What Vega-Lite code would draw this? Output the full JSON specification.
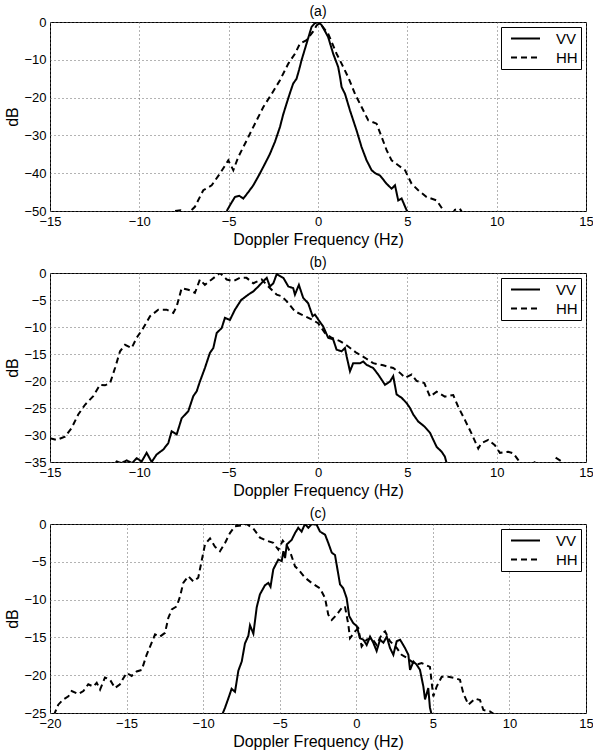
{
  "$schema": "https://vega.github.io/schema/vega-lite/v6.json",
  "padding": {"left": 4, "top": 4, "right": 0, "bottom": 0},
  "spacing": 7,
  "datasets": {
    "a": [
      {"pol":"VV","f":-5.11,"db":-50},{"pol":"VV","f":-4.93,"db":-48.5},{"pol":"VV","f":-4.65,"db":-46.3},{"pol":"VV","f":-4.4,"db":-46.0},{"pol":"VV","f":-4.18,"db":-46.7},{"pol":"VV","f":-3.9,"db":-45},{"pol":"VV","f":-3.62,"db":-43.2},{"pol":"VV","f":-3.3,"db":-40.5},{"pol":"VV","f":-2.97,"db":-37.5},{"pol":"VV","f":-2.7,"db":-35},{"pol":"VV","f":-2.41,"db":-31.7},{"pol":"VV","f":-2.13,"db":-27.8},{"pol":"VV","f":-1.95,"db":-24.5},{"pol":"VV","f":-1.76,"db":-21.6},{"pol":"VV","f":-1.55,"db":-18.5},{"pol":"VV","f":-1.39,"db":-16.3},{"pol":"VV","f":-1.2,"db":-15.0},{"pol":"VV","f":-1.05,"db":-12.5},{"pol":"VV","f":-0.92,"db":-10.1},{"pol":"VV","f":-0.64,"db":-5.7},{"pol":"VV","f":-0.36,"db":-1.3},{"pol":"VV","f":-0.17,"db":-0.3},{"pol":"VV","f":0,"db":0},{"pol":"VV","f":0.2,"db":-0.8},{"pol":"VV","f":0.4,"db":-2.5},{"pol":"VV","f":0.57,"db":-4},{"pol":"VV","f":0.85,"db":-8.4},{"pol":"VV","f":1.13,"db":-11.9},{"pol":"VV","f":1.25,"db":-15},{"pol":"VV","f":1.32,"db":-17.2},{"pol":"VV","f":1.51,"db":-19},{"pol":"VV","f":1.79,"db":-23.4},{"pol":"VV","f":2.16,"db":-28.7},{"pol":"VV","f":2.44,"db":-33.1},{"pol":"VV","f":2.72,"db":-36.6},{"pol":"VV","f":3.0,"db":-39.2},{"pol":"VV","f":3.2,"db":-40},{"pol":"VV","f":3.47,"db":-40.6},{"pol":"VV","f":3.84,"db":-42.8},{"pol":"VV","f":4.12,"db":-44.1},{"pol":"VV","f":4.31,"db":-43.2},{"pol":"VV","f":4.49,"db":-47.2},{"pol":"VV","f":4.68,"db":-46.7},{"pol":"VV","f":4.96,"db":-49.8},{"pol":"VV","f":5.02,"db":-50},
      {"pol":"HH","f":-8.0,"db":-50},{"pol":"HH","f":-7.7,"db":-49.8},{"pol":"HH","f":-7.35,"db":-51},{"pol":"HH","f":-6.89,"db":-48.9},{"pol":"HH","f":-6.42,"db":-44.5},{"pol":"HH","f":-5.95,"db":-43.2},{"pol":"HH","f":-5.49,"db":-40.1},{"pol":"HH","f":-5.02,"db":-36.6},{"pol":"HH","f":-4.74,"db":-39.2},{"pol":"HH","f":-4.46,"db":-35.7},{"pol":"HH","f":-3.99,"db":-31.3},{"pol":"HH","f":-3.53,"db":-26.9},{"pol":"HH","f":-3.06,"db":-22.5},{"pol":"HH","f":-2.59,"db":-19},{"pol":"HH","f":-2.13,"db":-15.4},{"pol":"HH","f":-1.66,"db":-11},{"pol":"HH","f":-1.29,"db":-8.4},{"pol":"HH","f":-1.01,"db":-5.7},{"pol":"HH","f":-0.64,"db":-4.8},{"pol":"HH","f":-0.27,"db":-2.5},{"pol":"HH","f":-0.08,"db":-0.9},{"pol":"HH","f":0.1,"db":-0.3},{"pol":"HH","f":0.3,"db":-1.5},{"pol":"HH","f":0.57,"db":-3.1},{"pol":"HH","f":1.04,"db":-8.4},{"pol":"HH","f":1.32,"db":-11},{"pol":"HH","f":1.69,"db":-14.6},{"pol":"HH","f":2.07,"db":-19},{"pol":"HH","f":2.44,"db":-22.5},{"pol":"HH","f":2.81,"db":-26},{"pol":"HH","f":3.28,"db":-26.9},{"pol":"HH","f":3.56,"db":-30.4},{"pol":"HH","f":3.84,"db":-33.9},{"pol":"HH","f":4.12,"db":-36.6},{"pol":"HH","f":4.49,"db":-37.9},{"pol":"HH","f":4.87,"db":-39.2},{"pol":"HH","f":5.24,"db":-42.8},{"pol":"HH","f":5.61,"db":-44.5},{"pol":"HH","f":6.08,"db":-46.3},{"pol":"HH","f":6.64,"db":-47.2},{"pol":"HH","f":7.01,"db":-49.8},{"pol":"HH","f":7.25,"db":-51},{"pol":"HH","f":7.5,"db":-51},{"pol":"HH","f":7.66,"db":-49.7},{"pol":"HH","f":7.94,"db":-49.4},{"pol":"HH","f":8.15,"db":-51}
    ],
    "b": [
      {"pol":"VV","f":-11.4,"db":-35.5},{"pol":"VV","f":-11.27,"db":-34.9},{"pol":"VV","f":-11.0,"db":-35.2},{"pol":"VV","f":-10.71,"db":-34.7},{"pol":"VV","f":-10.4,"db":-35.2},{"pol":"VV","f":-10.15,"db":-34.3},{"pol":"VV","f":-9.87,"db":-34.9},{"pol":"VV","f":-9.59,"db":-33.3},{"pol":"VV","f":-9.31,"db":-35},{"pol":"VV","f":-9.03,"db":-33.6},{"pol":"VV","f":-8.66,"db":-32.7},{"pol":"VV","f":-8.38,"db":-31.5},{"pol":"VV","f":-8.19,"db":-29.3},{"pol":"VV","f":-7.91,"db":-29.9},{"pol":"VV","f":-7.63,"db":-26.9},{"pol":"VV","f":-7.26,"db":-25.6},{"pol":"VV","f":-6.98,"db":-22.8},{"pol":"VV","f":-6.79,"db":-21.9},{"pol":"VV","f":-6.61,"db":-20.1},{"pol":"VV","f":-6.33,"db":-17.6},{"pol":"VV","f":-6.05,"db":-14.8},{"pol":"VV","f":-5.86,"db":-13.9},{"pol":"VV","f":-5.67,"db":-11.1},{"pol":"VV","f":-5.39,"db":-10.2},{"pol":"VV","f":-5.21,"db":-8.3},{"pol":"VV","f":-4.93,"db":-8.7},{"pol":"VV","f":-4.65,"db":-6.8},{"pol":"VV","f":-4.3,"db":-5.0},{"pol":"VV","f":-3.9,"db":-4.0},{"pol":"VV","f":-3.62,"db":-3.4},{"pol":"VV","f":-3.34,"db":-2.5},{"pol":"VV","f":-3.06,"db":-1.5},{"pol":"VV","f":-2.87,"db":-0.9},{"pol":"VV","f":-2.69,"db":-2.5},{"pol":"VV","f":-2.5,"db":-1.9},{"pol":"VV","f":-2.31,"db":-0.2},{"pol":"VV","f":-1.94,"db":-0.9},{"pol":"VV","f":-1.66,"db":-2.5},{"pol":"VV","f":-1.39,"db":-2.8},{"pol":"VV","f":-1.29,"db":-4.0},{"pol":"VV","f":-1.07,"db":-2.2},{"pol":"VV","f":-0.83,"db":-4.6},{"pol":"VV","f":-0.55,"db":-5.6},{"pol":"VV","f":-0.3,"db":-8.0},{"pol":"VV","f":-0.17,"db":-7.7},{"pol":"VV","f":0.01,"db":-8.6},{"pol":"VV","f":0.29,"db":-9.9},{"pol":"VV","f":0.57,"db":-12.0},{"pol":"VV","f":0.85,"db":-12.3},{"pol":"VV","f":1.04,"db":-14.2},{"pol":"VV","f":1.32,"db":-14.5},{"pol":"VV","f":1.51,"db":-13.9},{"pol":"VV","f":1.6,"db":-15.4},{"pol":"VV","f":1.79,"db":-18.2},{"pol":"VV","f":1.97,"db":-16.7},{"pol":"VV","f":2.35,"db":-16.7},{"pol":"VV","f":2.53,"db":-16.4},{"pol":"VV","f":2.72,"db":-17.0},{"pol":"VV","f":3.09,"db":-17.6},{"pol":"VV","f":3.37,"db":-18.8},{"pol":"VV","f":3.75,"db":-20.7},{"pol":"VV","f":4.03,"db":-20.1},{"pol":"VV","f":4.21,"db":-19.1},{"pol":"VV","f":4.4,"db":-22.5},{"pol":"VV","f":4.68,"db":-23.1},{"pol":"VV","f":4.96,"db":-24.1},{"pol":"VV","f":5.15,"db":-25.0},{"pol":"VV","f":5.33,"db":-26.2},{"pol":"VV","f":5.61,"db":-27.5},{"pol":"VV","f":5.95,"db":-28.4},{"pol":"VV","f":6.27,"db":-29.6},{"pol":"VV","f":6.64,"db":-32.2},{"pol":"VV","f":6.92,"db":-33.1},{"pol":"VV","f":7.1,"db":-34.0},{"pol":"VV","f":7.2,"db":-35.2},
      {"pol":"HH","f":-15,"db":-30.6},{"pol":"HH","f":-14.63,"db":-30.9},{"pol":"HH","f":-14.16,"db":-30.3},{"pol":"HH","f":-13.79,"db":-28.7},{"pol":"HH","f":-13.42,"db":-26.2},{"pol":"HH","f":-13.04,"db":-24.4},{"pol":"HH","f":-12.58,"db":-22.8},{"pol":"HH","f":-12.2,"db":-20.7},{"pol":"HH","f":-11.92,"db":-20.8},{"pol":"HH","f":-11.64,"db":-20.4},{"pol":"HH","f":-11.36,"db":-17.6},{"pol":"HH","f":-11.08,"db":-14.5},{"pol":"HH","f":-10.8,"db":-13.3},{"pol":"HH","f":-10.43,"db":-13.9},{"pol":"HH","f":-10.15,"db":-12.0},{"pol":"HH","f":-9.78,"db":-10.2},{"pol":"HH","f":-9.4,"db":-8.0},{"pol":"HH","f":-8.94,"db":-6.8},{"pol":"HH","f":-8.47,"db":-6.8},{"pol":"HH","f":-8.1,"db":-7.4},{"pol":"HH","f":-7.91,"db":-6.2},{"pol":"HH","f":-7.63,"db":-2.8},{"pol":"HH","f":-7.26,"db":-3.1},{"pol":"HH","f":-6.89,"db":-3.7},{"pol":"HH","f":-6.61,"db":-1.2},{"pol":"HH","f":-6.33,"db":-2.2},{"pol":"HH","f":-5.95,"db":-1.2},{"pol":"HH","f":-5.49,"db":0},{"pol":"HH","f":-5.11,"db":-1.2},{"pol":"HH","f":-4.74,"db":-1.5},{"pol":"HH","f":-4.37,"db":-0.9},{"pol":"HH","f":-4.0,"db":-0.9},{"pol":"HH","f":-3.62,"db":-1.9},{"pol":"HH","f":-3.15,"db":-1.2},{"pol":"HH","f":-2.78,"db":-2.5},{"pol":"HH","f":-2.31,"db":-4.0},{"pol":"HH","f":-2.03,"db":-4.3},{"pol":"HH","f":-1.76,"db":-5.2},{"pol":"HH","f":-1.29,"db":-7.1},{"pol":"HH","f":-0.92,"db":-7.7},{"pol":"HH","f":-0.36,"db":-8.6},{"pol":"HH","f":0.01,"db":-9.3},{"pol":"HH","f":0.39,"db":-11.1},{"pol":"HH","f":0.76,"db":-12.0},{"pol":"HH","f":1.23,"db":-12.6},{"pol":"HH","f":1.69,"db":-13.6},{"pol":"HH","f":2.16,"db":-14.8},{"pol":"HH","f":2.63,"db":-15.7},{"pol":"HH","f":3.09,"db":-16.7},{"pol":"HH","f":3.65,"db":-17.1},{"pol":"HH","f":4.21,"db":-17.6},{"pol":"HH","f":4.59,"db":-18.5},{"pol":"HH","f":4.87,"db":-19.4},{"pol":"HH","f":5.24,"db":-18.8},{"pol":"HH","f":5.52,"db":-20.0},{"pol":"HH","f":5.95,"db":-20.4},{"pol":"HH","f":6.27,"db":-22.9},{"pol":"HH","f":6.64,"db":-22.0},{"pol":"HH","f":7.1,"db":-22.9},{"pol":"HH","f":7.57,"db":-22.6},{"pol":"HH","f":7.85,"db":-24.8},{"pol":"HH","f":8.22,"db":-27.2},{"pol":"HH","f":8.59,"db":-29.7},{"pol":"HH","f":8.97,"db":-32.5},{"pol":"HH","f":9.15,"db":-31.5},{"pol":"HH","f":9.53,"db":-30.9},{"pol":"HH","f":9.9,"db":-31.9},{"pol":"HH","f":10.18,"db":-33.3},{"pol":"HH","f":10.64,"db":-33.1},{"pol":"HH","f":10.93,"db":-33.4},{"pol":"HH","f":11.2,"db":-34.6},{"pol":"HH","f":11.35,"db":-35.5},{"pol":"HH","f":12.0,"db":-35.3},{"pol":"HH","f":12.2,"db":-34.9},{"pol":"HH","f":12.4,"db":-35.3},{"pol":"HH","f":13.2,"db":-35.3},{"pol":"HH","f":13.35,"db":-34.3},{"pol":"HH","f":13.63,"db":-34.9},{"pol":"HH","f":13.8,"db":-35.5}
    ],
    "c": [
      {"pol":"VV","f":-8.75,"db":-25.2},{"pol":"VV","f":-8.57,"db":-24.3},{"pol":"VV","f":-8.36,"db":-23.1},{"pol":"VV","f":-8.14,"db":-21.8},{"pol":"VV","f":-7.92,"db":-22.2},{"pol":"VV","f":-7.7,"db":-19.4},{"pol":"VV","f":-7.48,"db":-18.2},{"pol":"VV","f":-7.27,"db":-15.8},{"pol":"VV","f":-7.05,"db":-14.8},{"pol":"VV","f":-6.94,"db":-13.4},{"pol":"VV","f":-6.72,"db":-14.5},{"pol":"VV","f":-6.5,"db":-11.0},{"pol":"VV","f":-6.29,"db":-9.3},{"pol":"VV","f":-5.96,"db":-8.1},{"pol":"VV","f":-5.74,"db":-7.8},{"pol":"VV","f":-5.6,"db":-8.3},{"pol":"VV","f":-5.42,"db":-6.0},{"pol":"VV","f":-5.09,"db":-4.7},{"pol":"VV","f":-4.87,"db":-4.9},{"pol":"VV","f":-4.76,"db":-3.6},{"pol":"VV","f":-4.65,"db":-4.5},{"pol":"VV","f":-4.54,"db":-2.7},{"pol":"VV","f":-4.22,"db":-2.1},{"pol":"VV","f":-4.0,"db":-1.2},{"pol":"VV","f":-3.79,"db":-0.5},{"pol":"VV","f":-3.57,"db":-1.0},{"pol":"VV","f":-3.35,"db":0},{"pol":"VV","f":-3.13,"db":-0.5},{"pol":"VV","f":-2.91,"db":0},{"pol":"VV","f":-2.59,"db":-0.1},{"pol":"VV","f":-2.37,"db":-1.0},{"pol":"VV","f":-2.04,"db":-1.4},{"pol":"VV","f":-1.83,"db":-2.5},{"pol":"VV","f":-1.6,"db":-3.8},{"pol":"VV","f":-1.39,"db":-4.1},{"pol":"VV","f":-1.28,"db":-5.4},{"pol":"VV","f":-1.06,"db":-8.0},{"pol":"VV","f":-0.85,"db":-8.5},{"pol":"VV","f":-0.63,"db":-9.8},{"pol":"VV","f":-0.46,"db":-12.2},{"pol":"VV","f":-0.2,"db":-13.1},{"pol":"VV","f":0.03,"db":-13.5},{"pol":"VV","f":0.24,"db":-15.1},{"pol":"VV","f":0.46,"db":-15.3},{"pol":"VV","f":0.68,"db":-16.0},{"pol":"VV","f":0.9,"db":-14.9},{"pol":"VV","f":1.11,"db":-15.7},{"pol":"VV","f":1.33,"db":-16.8},{"pol":"VV","f":1.55,"db":-15.3},{"pol":"VV","f":1.77,"db":-15.7},{"pol":"VV","f":1.99,"db":-14.9},{"pol":"VV","f":2.2,"db":-16.4},{"pol":"VV","f":2.42,"db":-17.3},{"pol":"VV","f":2.64,"db":-15.5},{"pol":"VV","f":2.86,"db":-15.3},{"pol":"VV","f":3.18,"db":-16.4},{"pol":"VV","f":3.4,"db":-17.3},{"pol":"VV","f":3.51,"db":-19.3},{"pol":"VV","f":3.73,"db":-18.2},{"pol":"VV","f":3.94,"db":-18.6},{"pol":"VV","f":4.16,"db":-19.3},{"pol":"VV","f":4.38,"db":-21.5},{"pol":"VV","f":4.49,"db":-23.2},{"pol":"VV","f":4.7,"db":-21.7},{"pol":"VV","f":4.81,"db":-24.3},{"pol":"VV","f":4.92,"db":-25.2},
      {"pol":"HH","f":-19.75,"db":-25.3},{"pol":"HH","f":-19.46,"db":-23.9},{"pol":"HH","f":-19.13,"db":-23.2},{"pol":"HH","f":-18.8,"db":-22.8},{"pol":"HH","f":-18.58,"db":-22.1},{"pol":"HH","f":-18.15,"db":-22.5},{"pol":"HH","f":-17.82,"db":-22.1},{"pol":"HH","f":-17.5,"db":-21.2},{"pol":"HH","f":-17.17,"db":-21.5},{"pol":"HH","f":-16.95,"db":-21.0},{"pol":"HH","f":-16.73,"db":-21.9},{"pol":"HH","f":-16.41,"db":-20.3},{"pol":"HH","f":-16.08,"db":-20.6},{"pol":"HH","f":-15.76,"db":-21.7},{"pol":"HH","f":-15.43,"db":-21.2},{"pol":"HH","f":-15.21,"db":-20.4},{"pol":"HH","f":-14.99,"db":-19.7},{"pol":"HH","f":-14.67,"db":-20.1},{"pol":"HH","f":-14.34,"db":-19.5},{"pol":"HH","f":-14.01,"db":-19.3},{"pol":"HH","f":-13.69,"db":-17.3},{"pol":"HH","f":-13.36,"db":-15.7},{"pol":"HH","f":-13.14,"db":-14.6},{"pol":"HH","f":-12.82,"db":-14.9},{"pol":"HH","f":-12.49,"db":-14.4},{"pol":"HH","f":-12.27,"db":-12.4},{"pol":"HH","f":-12.05,"db":-11.3},{"pol":"HH","f":-11.73,"db":-10.9},{"pol":"HH","f":-11.51,"db":-9.6},{"pol":"HH","f":-11.3,"db":-7.8},{"pol":"HH","f":-10.97,"db":-6.9},{"pol":"HH","f":-10.64,"db":-7.6},{"pol":"HH","f":-10.32,"db":-7.1},{"pol":"HH","f":-10.1,"db":-4.9},{"pol":"HH","f":-9.88,"db":-2.7},{"pol":"HH","f":-9.55,"db":-1.9},{"pol":"HH","f":-9.23,"db":-3.0},{"pol":"HH","f":-8.9,"db":-3.6},{"pol":"HH","f":-8.57,"db":-2.5},{"pol":"HH","f":-8.25,"db":-1.2},{"pol":"HH","f":-7.92,"db":-0.3},{"pol":"HH","f":-7.5,"db":-0.2},{"pol":"HH","f":-7.16,"db":0},{"pol":"HH","f":-6.72,"db":-0.6},{"pol":"HH","f":-6.29,"db":-1.8},{"pol":"HH","f":-5.85,"db":-2.2},{"pol":"HH","f":-5.42,"db":-2.5},{"pol":"HH","f":-5.09,"db":-3.4},{"pol":"HH","f":-4.8,"db":-2.2},{"pol":"HH","f":-4.55,"db":-2.8},{"pol":"HH","f":-4.3,"db":-3.8},{"pol":"HH","f":-4.0,"db":-5.6},{"pol":"HH","f":-3.79,"db":-6.0},{"pol":"HH","f":-3.35,"db":-7.1},{"pol":"HH","f":-2.91,"db":-7.8},{"pol":"HH","f":-2.37,"db":-8.5},{"pol":"HH","f":-2.04,"db":-9.8},{"pol":"HH","f":-1.83,"db":-12.0},{"pol":"HH","f":-1.6,"db":-12.7},{"pol":"HH","f":-1.28,"db":-12.0},{"pol":"HH","f":-0.95,"db":-11.1},{"pol":"HH","f":-0.74,"db":-10.9},{"pol":"HH","f":-0.52,"db":-13.3},{"pol":"HH","f":-0.41,"db":-15.1},{"pol":"HH","f":-0.08,"db":-14.2},{"pol":"HH","f":0.13,"db":-13.8},{"pol":"HH","f":0.35,"db":-16.2},{"pol":"HH","f":0.68,"db":-15.3},{"pol":"HH","f":1.01,"db":-15.1},{"pol":"HH","f":1.33,"db":-16.0},{"pol":"HH","f":1.66,"db":-14.6},{"pol":"HH","f":1.88,"db":-14.2},{"pol":"HH","f":2.2,"db":-15.5},{"pol":"HH","f":2.64,"db":-16.4},{"pol":"HH","f":2.96,"db":-17.3},{"pol":"HH","f":3.29,"db":-17.7},{"pol":"HH","f":3.62,"db":-18.2},{"pol":"HH","f":3.94,"db":-18.6},{"pol":"HH","f":4.27,"db":-18.4},{"pol":"HH","f":4.81,"db":-18.9},{"pol":"HH","f":4.92,"db":-20.9},{"pol":"HH","f":5.03,"db":-22.8},{"pol":"HH","f":5.25,"db":-21.5},{"pol":"HH","f":5.58,"db":-20.2},{"pol":"HH","f":6.01,"db":-20.2},{"pol":"HH","f":6.45,"db":-20.4},{"pol":"HH","f":6.77,"db":-20.6},{"pol":"HH","f":6.99,"db":-22.4},{"pol":"HH","f":7.32,"db":-23.9},{"pol":"HH","f":7.75,"db":-23.1},{"pol":"HH","f":8.08,"db":-23.3},{"pol":"HH","f":8.3,"db":-24.6},{"pol":"HH","f":8.73,"db":-24.8},{"pol":"HH","f":9.1,"db":-25.3}
    ]
  },
  "vconcat": [
    {
      "title": {"text": "(a)"},
      "width": 536, "height": 189,
      "data": {"name": "a"},
      "mark": {"type": "line", "clip": true, "strokeWidth": 2, "color": "black"},
      "encoding": {
        "x": {"field": "f", "type": "quantitative", "scale": {"domain": [-15, 15], "nice": false}, "axis": {"values": [-15, -10, -5, 0, 5, 10, 15], "title": "Doppler Frequency (Hz)"}},
        "y": {"field": "db", "type": "quantitative", "scale": {"domain": [-50, 0], "nice": false}, "axis": {"values": [-50, -40, -30, -20, -10, 0], "title": "dB"}},
        "strokeDash": {"field": "pol", "type": "nominal", "scale": {"domain": ["VV", "HH"], "range": [[1, 0], [6, 4]]}, "legend": {"title": null, "orient": "top-right"}}
      }
    },
    {
      "title": {"text": "(b)"},
      "width": 536, "height": 189,
      "data": {"name": "b"},
      "mark": {"type": "line", "clip": true, "strokeWidth": 2, "color": "black"},
      "encoding": {
        "x": {"field": "f", "type": "quantitative", "scale": {"domain": [-15, 15], "nice": false}, "axis": {"values": [-15, -10, -5, 0, 5, 10, 15], "title": "Doppler Frequency (Hz)"}},
        "y": {"field": "db", "type": "quantitative", "scale": {"domain": [-35, 0], "nice": false}, "axis": {"values": [-35, -30, -25, -20, -15, -10, -5, 0], "title": "dB"}},
        "strokeDash": {"field": "pol", "type": "nominal", "scale": {"domain": ["VV", "HH"], "range": [[1, 0], [6, 4]]}, "legend": {"title": null, "orient": "top-right"}}
      }
    },
    {
      "title": {"text": "(c)"},
      "width": 536, "height": 189,
      "data": {"name": "c"},
      "mark": {"type": "line", "clip": true, "strokeWidth": 2, "color": "black"},
      "encoding": {
        "x": {"field": "f", "type": "quantitative", "scale": {"domain": [-20, 15], "nice": false}, "axis": {"values": [-20, -15, -10, -5, 0, 5, 10, 15], "title": "Doppler Frequency (Hz)"}},
        "y": {"field": "db", "type": "quantitative", "scale": {"domain": [-25, 0], "nice": false}, "axis": {"values": [-25, -20, -15, -10, -5, 0], "title": "dB"}},
        "strokeDash": {"field": "pol", "type": "nominal", "scale": {"domain": ["VV", "HH"], "range": [[1, 0], [6, 4]]}, "legend": {"title": null, "orient": "top-right"}}
      }
    }
  ],
  "resolve": {"scale": {"x": "independent", "y": "independent", "strokeDash": "independent"}, "legend": {"strokeDash": "independent"}},
  "config": {
    "font": "Liberation Sans",
    "background": "white",
    "view": {"stroke": "black", "strokeWidth": 1},
    "axis": {"grid": true, "gridDash": [1, 3], "gridColor": "#666", "gridOpacity": 1, "gridWidth": 1, "domain": false, "ticks": false, "labelColor": "black", "labelFontSize": 13, "labelFlush": false, "labelOverlap": false, "labelPadding": 4, "titleFontSize": 16, "titleFontWeight": "normal", "titleColor": "black", "titlePadding": 3},
    "title": {"fontSize": 14, "fontWeight": "normal", "color": "black", "frame": "group", "anchor": "middle", "offset": -3},
    "legend": {"strokeColor": "black", "fillColor": "white", "padding": 3, "offset": 5, "symbolType": "stroke", "symbolSize": 841, "symbolStrokeWidth": 2, "symbolStrokeColor": "black", "symbolOffset": 6, "clipHeight": 17, "labelFontSize": 15, "labelColor": "black", "labelOffset": 15, "labelExpr": "datum.label + '\u00a0\u00a0'", "rowPadding": 2, "cornerRadius": 0}
  }
}
